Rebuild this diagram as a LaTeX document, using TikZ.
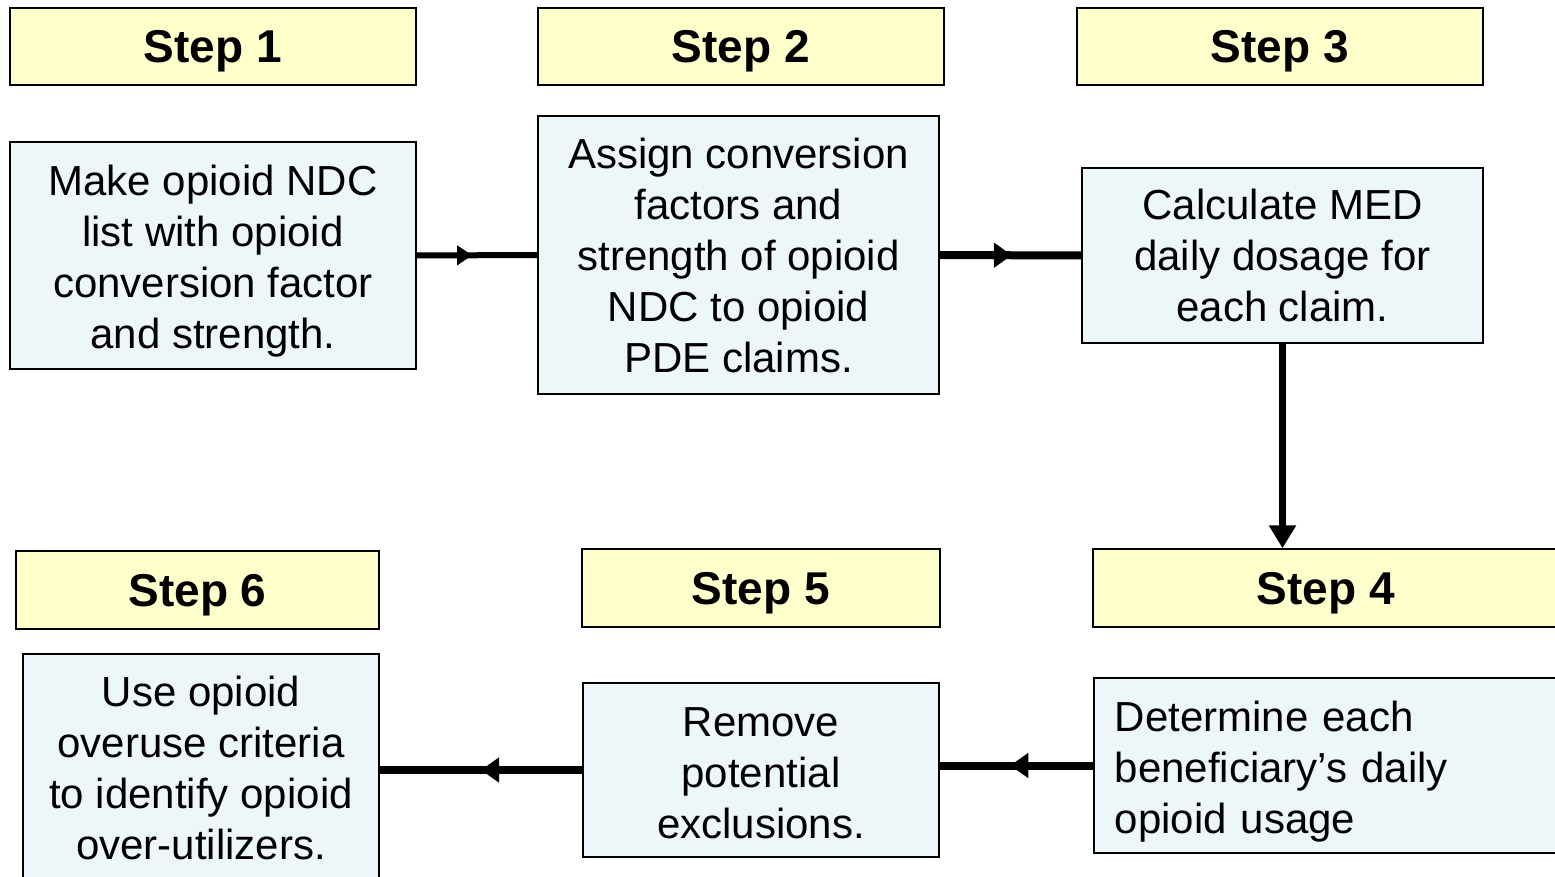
\documentclass[tikz,border=0pt]{standalone}
\usepackage{fontspec}
\setmainfont{Liberation Sans}
\usetikzlibrary{arrows.meta,decorations.markings}
\definecolor{hdrfill}{RGB}{255,255,204}
\definecolor{boxfill}{RGB}{237,246,248}
\tikzset{
  hdr/.style={draw=black, line width=1.5pt, fill=hdrfill, inner sep=0pt, text depth=0pt,
    minimum height=77pt, font=\fontsize{46}{55}\selectfont\bfseries},
  txtbox/.style={draw=black, line width=1.5pt, fill=boxfill, inner sep=0pt,
    align=center, font=\fontsize{42}{51}\selectfont},
  conn/.style n args={4}{line width=#1, postaction={decorate},
    decoration={markings, mark=at position #2 with {\arrow{Triangle[length=#3,width=#4]}}}},
}
\begin{document}
\begin{tikzpicture}[x=1pt,y=-1pt]
\clip (0,0) rectangle (1555,877);
\fill[white] (0,0) rectangle (1555,877);
% headers
\node[hdr, minimum width=406pt] (h1) at (213,46.5) {Step 1};
\node[hdr, minimum width=406pt] (h2) at (741,46.5) {Step 2};
\node[hdr, minimum width=406pt] (h3) at (1280,46.5) {Step 3};
\node[hdr, minimum width=363pt, minimum height=78pt] (h6) at (197.5,590) {Step 6};
\node[hdr, minimum width=358pt, minimum height=78pt] (h5) at (761,588) {Step 5};
\node[hdr, minimum width=466pt, minimum height=78pt] (h4) at (1326,588) {Step 4};
% content boxes
\node[txtbox, minimum width=406pt, minimum height=227pt] (b1) at (213,255.5)
  {\rule{0pt}{42pt}Make opioid NDC\\list with opioid\\conversion factor\\and strength.};
\node[txtbox, minimum width=401pt, minimum height=278pt] (b2) at (738.5,255)
  {Assign conversion\\factors and\\strength of opioid\\NDC to opioid\\PDE claims.};
\node[txtbox, minimum width=401pt, minimum height=175pt] (b3) at (1282.5,255.5)
  {Calculate MED\\daily dosage for\\each claim.};
\node[txtbox, minimum width=356pt, minimum height=228pt] (b6) at (201,768)
  {Use opioid\\overuse criteria\\to identify opioid\\over-utilizers.};
\node[txtbox, minimum width=356pt, minimum height=174pt] (b5) at (761,770)
  {\rule{0pt}{36pt}Remove\\potential\\exclusions.};
\node[txtbox, align=left, text width=425pt, inner xsep=21pt, minimum height=175pt,
  anchor=west] (b4) at (1093,765.5)
  {\rule{0pt}{42pt}Determine each\\beneficiary’s daily\\opioid usage};
% connectors
\draw[conn={6pt}{0.46}{15pt}{19pt}] (b1.east) -- (b2.west);
\draw[conn={8pt}{0.51}{18pt}{24pt}] (b2.east) -- (b3.west);
\draw[line width=7pt, -{Triangle[length=23pt,width=26pt]}] (b3.south) -- (b3.south |- h4.north);
\draw[conn={8pt}{0.54}{18pt}{24pt}] (b4.west) -- (b4.west -| b5.east);
\draw[conn={8pt}{0.5}{18pt}{24pt}] (b5.west) -- (b5.west -| b6.east);
\end{tikzpicture}
\end{document}
